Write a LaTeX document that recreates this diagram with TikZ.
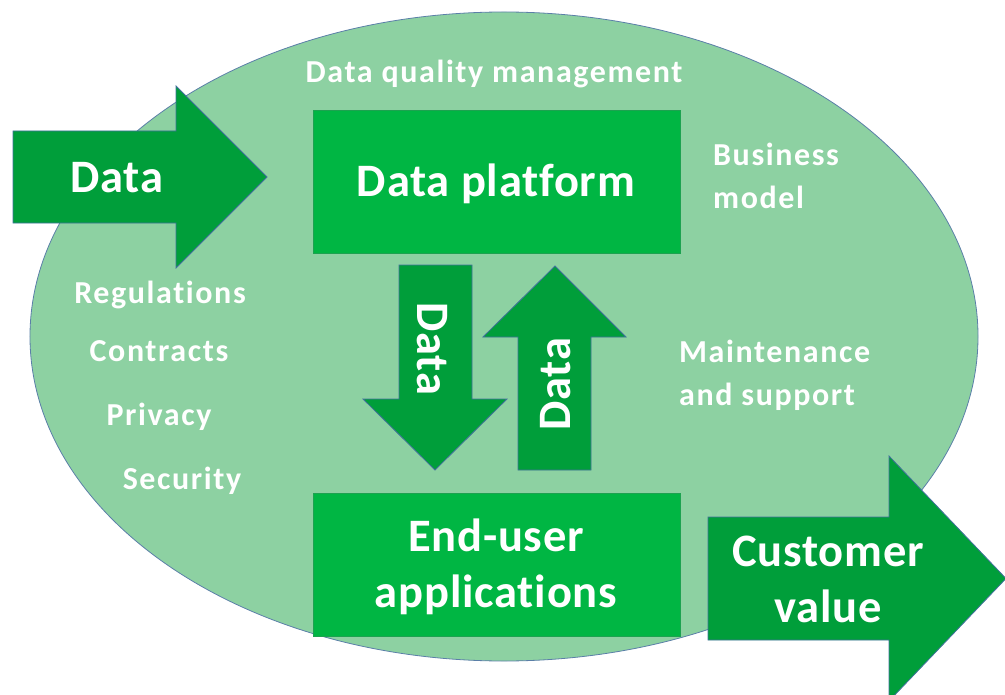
\documentclass[tikz,border=0pt]{standalone}
\usepackage{fontspec}
\setmainfont{Carlito}[Ligatures=NoCommon]
\newfontfamily\bigfamily{Carlito}[Ligatures=NoCommon, LetterSpace=1.7]
\newfontfamily\smallfamily{Carlito}[Ligatures=NoCommon, LetterSpace=5]
\usetikzlibrary{shapes.geometric}
\definecolor{fieldfill}{HTML}{8DD1A2}
\definecolor{fieldline}{HTML}{5B7FA8}
\definecolor{boxfill}{HTML}{00B643}
\definecolor{boxline}{HTML}{1DA250}
\definecolor{arrowfill}{HTML}{009E3A}
\definecolor{arrowline}{HTML}{41719C}
\tikzset{
  field/.style={ellipse, draw=fieldline, fill=fieldfill, line width=0.8bp, inner sep=0pt},
  stepbox/.style={rectangle, draw=boxline, fill=boxfill, line width=0.8bp, inner sep=0pt},
  bigarrow/.style={draw=arrowline, fill=arrowfill, line width=0.8bp, line join=miter},
  bigtxt/.style={text=white, inner sep=0pt, font=\bigfamily\bfseries\fontsize{46.5bp}{56bp}\selectfont},
  smalltxt/.style={text=white, inner sep=0pt, font=\smallfamily\bfseries\fontsize{32bp}{42bp}\selectfont},
}
\begin{document}
\begin{tikzpicture}[x=1bp,y=-1bp]
\useasboundingbox (0,0) rectangle (1005,695);
\clip (0,0) rectangle (1005,695);
% background field
\node[field, minimum width=948bp, minimum height=649bp] (field) at (504,336.5) {};
% boxes
\node[stepbox, minimum width=367bp, minimum height=143bp] (platform) at (496.5,181.5) {};
\node[stepbox, minimum width=367bp, minimum height=143bp] (enduser) at (496.5,564.5) {};
% input arrow
\draw[bigarrow] (13,131) -- (176,131) -- (176,86) -- (267,177) -- (176,268) -- (176,223) -- (13,223) -- cycle;
% output arrow
\draw[bigarrow] (708,517) -- (889,517) -- (889,456) -- (1006,578.5) -- (889,701) -- (889,640) -- (708,640) -- cycle;
% down arrow
\draw[bigarrow] (399,265) -- (472,265) -- (472,399) -- (507,399) -- (435,470) -- (363,399) -- (399,399) -- cycle;
% up arrow
\draw[bigarrow] (518,470) -- (591,470) -- (591,337) -- (626,337) -- (555,266) -- (483,337) -- (518,337) -- cycle;
% texts
\node[bigtxt, anchor=base] (tin) at (117,193) {Data};
\node[bigtxt, anchor=base] (tplat) at (496,197) {Data platform};
\node[bigtxt, anchor=base] (tend) at (496,551) {End-user};
\node[bigtxt, anchor=base] (tapp) at (496,607) {applications};
\node[bigtxt, anchor=base] (tcust) at (828,566) {Customer};
\node[bigtxt, anchor=base] (tval) at (828,622) {value};
\node[bigtxt, anchor=base, rotate=-90] (tdown) at (417,349) {Data};
\node[bigtxt, anchor=base, rotate=90] (tup) at (570,384) {Data};
\node[smalltxt, anchor=base] (tdqm) at (494,83) {Data quality management};
\node[smalltxt, anchor=base west] (tbus1) at (713,166) {Business};
\node[smalltxt, anchor=base west] (tbus2) at (713,208) {model};
\node[smalltxt, anchor=base west] (tmai1) at (679,362) {Maintenance};
\node[smalltxt, anchor=base west] (tmai2) at (679,405) {and support};
\node[smalltxt, anchor=base] (treg) at (160,303) {Regulations};
\node[smalltxt, anchor=base] (tcon) at (159,361) {Contracts};
\node[smalltxt, anchor=base] (tpri) at (159,425) {Privacy};
\node[smalltxt, anchor=base] (tsec) at (182,489) {Security};
\end{tikzpicture}
\end{document}
